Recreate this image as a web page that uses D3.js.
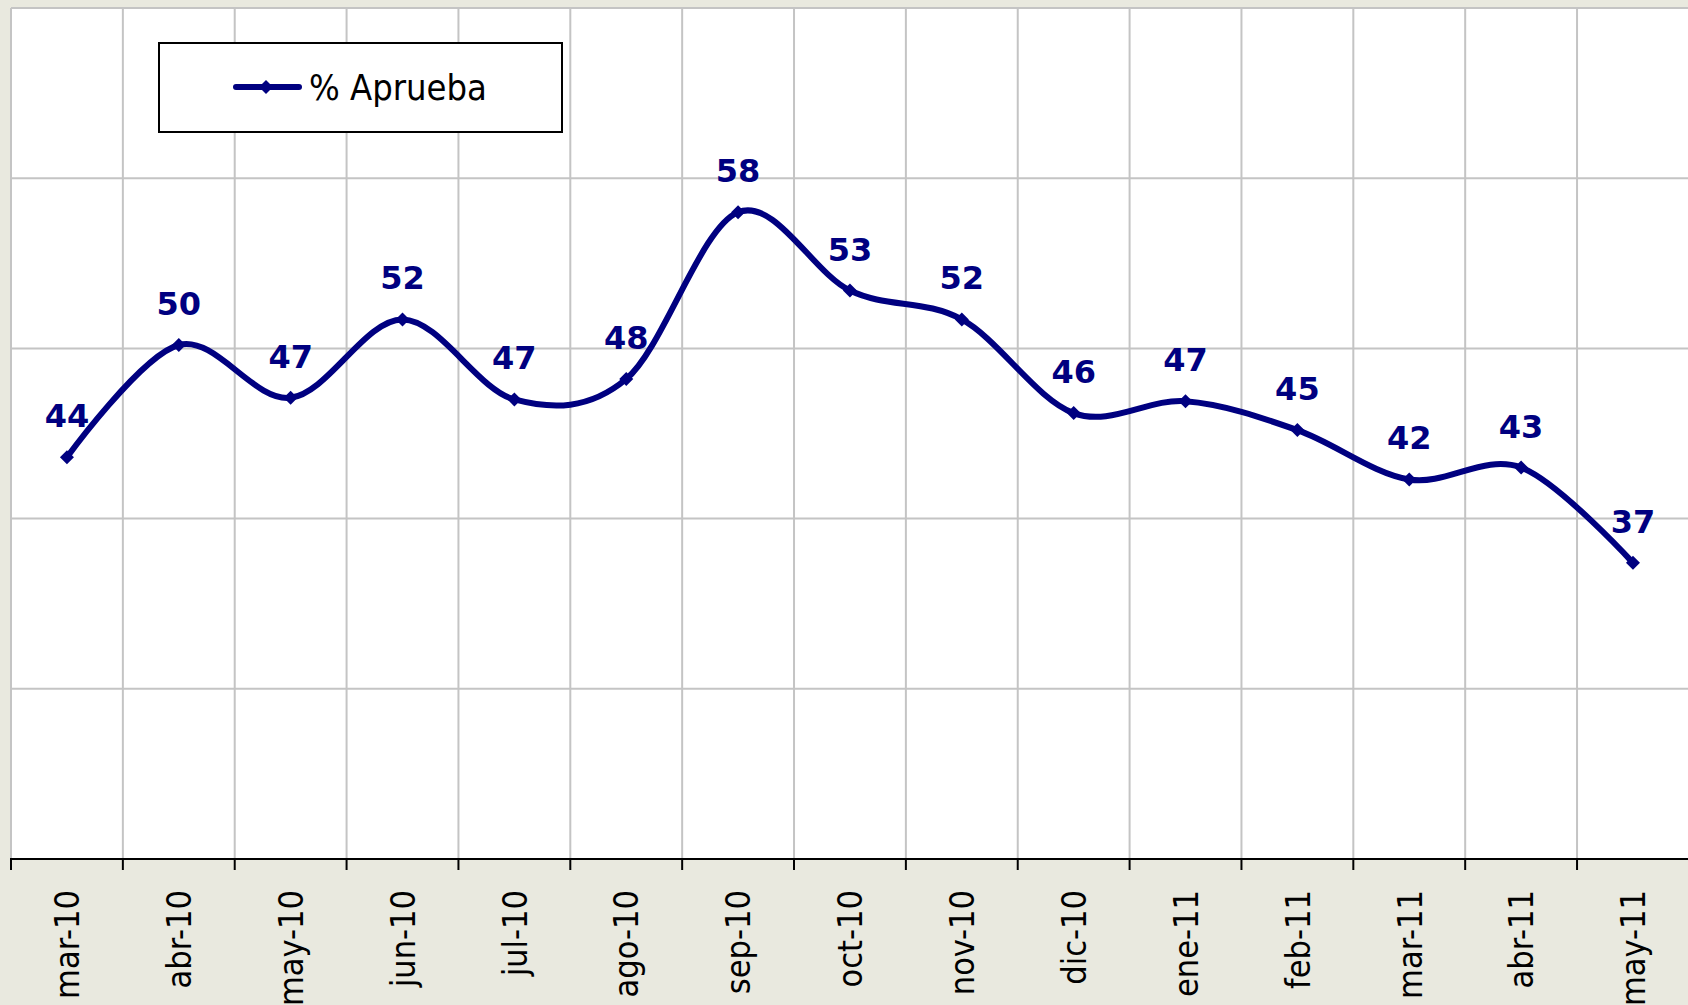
<!DOCTYPE html>
<html>
<head>
<meta charset="utf-8">
<script src="https://cdn.jsdelivr.net/npm/d3@7"></script>
<style>
  body { margin: 0; background: #e9e9df; overflow: hidden; }
  .axis-label { font-family: "DejaVu Sans Condensed", "DejaVu Sans", sans-serif; font-stretch: condensed; font-size: 34px; fill: #000; }
  .data-label { font-family: "DejaVu Sans", sans-serif; font-weight: bold; font-size: 32px; fill: #000080; }
  .legend-text { font-family: "DejaVu Sans Condensed", "DejaVu Sans", sans-serif; font-stretch: condensed; font-size: 36px; fill: #000; }
</style>
</head>
<body>
<div id="chart"></div>
<script>
const WIDTH = 1688;
const HEIGHT = 1005;
const PLOT = { LEFT: 11, TOP: 8, BOTTOM: 859, BAND: 111.86 };

// months
const categories = ["mar-10", "abr-10", "may-10", "jun-10", "jul-10", "ago-10", "sep-10",
  "oct-10", "nov-10", "dic-10", "ene-11", "feb-11", "mar-11", "abr-11", "may-11"];
// % Aprueba
const apruebaValues = [43.6, 50.2, 47.1, 51.7, 47.0, 48.2, 58.0, 53.4, 51.7, 46.2, 46.9, 45.2, 42.3, 43.0, 37.4];
const yTicks = [20, 30, 40, 50, 60, 70];
const seriesName = "% Aprueba";

const navy = "#000080";

const svg = d3.select("#chart").append("svg")
  .attr("width", WIDTH)
  .attr("height", HEIGHT);

var x = d3.scaleBand()
  .domain(categories)
  .range([PLOT.LEFT, PLOT.LEFT + PLOT.BAND * categories.length])
  .padding(0);

var y = d3.scaleLinear()
  .domain([d3.min(yTicks), d3.max(yTicks)])
  .range([PLOT.BOTTOM, PLOT.TOP]);

// plot area
svg.append("rect")
  .attr("x", PLOT.LEFT)
  .attr("y", PLOT.TOP)
  .attr("width", WIDTH - PLOT.LEFT)
  .attr("height", PLOT.BOTTOM - PLOT.TOP)
  .attr("fill", "#fff");

// horizontal grid
svg.append("g")
  .selectAll("line")
  .data(yTicks.slice(1))
  .enter().append("line")
  .attr("x1", PLOT.LEFT)
  .attr("x2", WIDTH)
  .attr("y1", d => y(d))
  .attr("y2", d => y(d))
  .attr("stroke", "#c4c4c4")
  .attr("stroke-width", 2);

// vertical grid at band boundaries
var bounds = categories.map(c => x(c));
svg.append("g")
  .selectAll("line")
  .data(bounds)
  .enter().append("line")
  .attr("x1", d => d)
  .attr("x2", d => d)
  .attr("y1", PLOT.TOP)
  .attr("y2", PLOT.BOTTOM)
  .attr("stroke", "#c4c4c4")
  .attr("stroke-width", 2);

// category axis
const axis = svg.append("g");
axis.append("line")
  .attr("x1", PLOT.LEFT - 1)
  .attr("x2", WIDTH)
  .attr("y1", PLOT.BOTTOM)
  .attr("y2", PLOT.BOTTOM)
  .attr("stroke", "#000")
  .attr("stroke-width", 2);

axis.selectAll(".tick")
  .data(bounds)
  .enter().append("line")
  .attr("class", "tick")
  .attr("x1", d => d)
  .attr("x2", d => d)
  .attr("y1", PLOT.BOTTOM)
  .attr("y2", PLOT.BOTTOM + 11)
  .attr("stroke", "#000")
  .attr("stroke-width", 2);

axis.selectAll(".axis-label")
  .data(categories)
  .enter().append("text")
  .attr("class", "axis-label")
  .attr("text-anchor", "end")
  .attr("dy", "0.36em")
  .attr("transform", d => "translate(" + (x(d) + x.bandwidth() / 2) + "," + 890 + ")rotate(-90)")
  .text(d => d);

// series
var data = categories.map((c, i) => ({ cat: c, value: apruebaValues[i] }));

var line = d3.line()
  .curve(d3.curveCardinal.tension(0))
  .x(d => x(d.cat) + x.bandwidth() / 2)
  .y(d => y(d.value));

svg.append("path")
  .datum(data)
  .attr("d", line)
  .attr("fill", "none")
  .attr("stroke", navy)
  .attr("stroke-width", 6)
  .attr("stroke-linejoin", "round");

var diamond = d3.symbol().type(d3.symbolSquare).size(98);

svg.append("g")
  .selectAll("path")
  .data(data)
  .enter().append("path")
  .attr("d", diamond)
  .attr("fill", navy)
  .attr("transform", d => "translate(" + (x(d.cat) + x.bandwidth() / 2) + "," + y(d.value) + ")rotate(45)");

svg.append("g")
  .selectAll("text")
  .data(data)
  .enter().append("text")
  .attr("class", "data-label")
  .attr("text-anchor", "middle")
  .attr("x", d => x(d.cat) + x.bandwidth() / 2)
  .attr("y", d => y(d.value) - 30)
  .text(d => Math.round(d.value));

// legend
const legend = svg.append("g");
legend.append("rect")
  .attr("x", 159)
  .attr("y", 43)
  .attr("width", 403)
  .attr("height", 89)
  .attr("fill", "#fff")
  .attr("stroke", "#000")
  .attr("stroke-width", 2);

legend.append("line")
  .attr("x1", 236)
  .attr("x2", 299)
  .attr("y1", 87)
  .attr("y2", 87)
  .attr("stroke", navy)
  .attr("stroke-width", 6)
  .attr("stroke-linecap", "round");

legend.append("path")
  .attr("d", diamond)
  .attr("fill", navy)
  .attr("transform", "translate(266,87)rotate(45)");

legend.append("text")
  .attr("class", "legend-text")
  .attr("x", 309)
  .attr("y", 100)
  .text(seriesName);
</script>
</body>
</html>
